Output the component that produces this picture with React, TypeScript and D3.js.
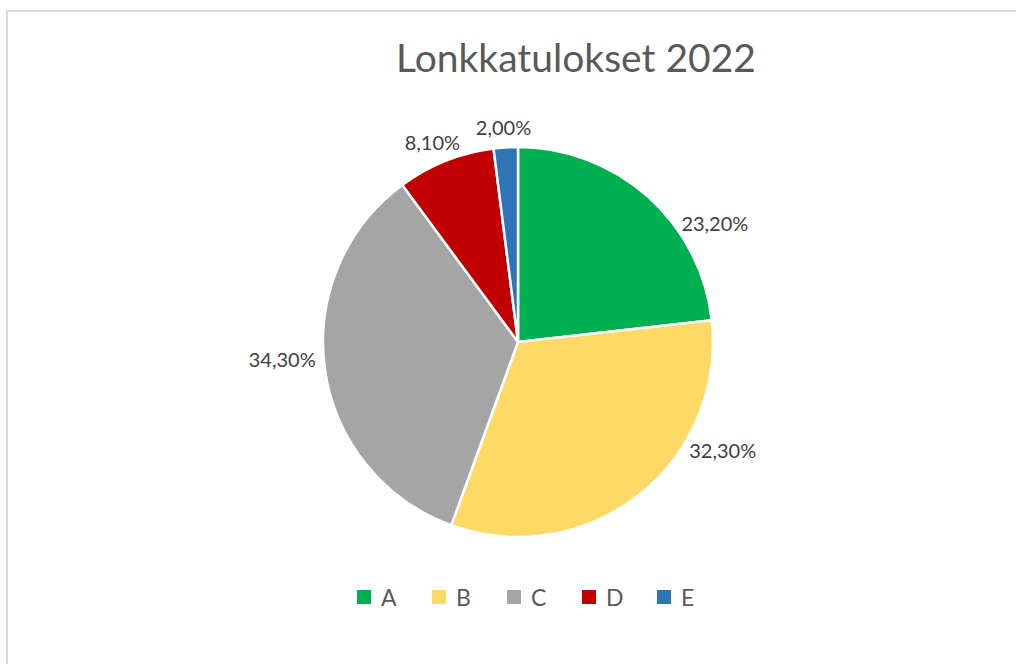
import React, { useRef, useEffect } from 'react';
import * as d3 from 'd3';

const categories = ['A', 'B', 'C', 'D', 'E'];
const values = [23.2, 32.3, 34.3, 8.1, 2.0];
const labels = ['23,20%', '32,30%', '34,30%', '8,10%', '2,00%'];
const colors = ['#00B050', '#FFD966', '#A5A5A5', '#C00000', '#2E75B6'];
const title = 'Lonkkatulokset 2022';

const W = 1016;
const H = 664;

const App = () => {
  const svgRef = useRef<SVGSVGElement>(null);

  useEffect(() => {
    if (!svgRef.current) return;
    const svg = d3.select(svgRef.current);
    svg.selectAll('*').remove();

    const font = 'Lato, Carlito, "Open Sans", sans-serif';

    svg.append('rect').attr('width', W).attr('height', H).attr('fill', '#fff');

    // chart border (box is wider than the window)
    svg.append('rect')
      .attr('x', 7).attr('y', 11)
      .attr('width', 1200).attr('height', 900)
      .attr('fill', 'none')
      .attr('stroke', '#d9d9d9')
      .attr('stroke-width', 2);

    svg.append('text')
      .attr('x', 576).attr('y', 72)
      .attr('text-anchor', 'middle')
      .attr('fill', '#595959')
      .attr('font-family', font)
      .attr('font-size', 39)
      .text(title);

    const cx = 518, cy = 342, radius = 195;
    const g = svg.append('g').attr('transform', `translate(${cx},${cy})`);

    const total = d3.sum(values);
    const data = categories.map((c, i) => ({ name: c, value: values[i], label: labels[i], color: colors[i] }));
    const pie = d3.pie<any>().value(d => d.value).sort(null);
    const arc = d3.arc<any>().innerRadius(0).outerRadius(radius);
    const arcs = pie(data);

    g.selectAll('path')
      .data(arcs)
      .enter()
      .append('path')
      .attr('d', arc)
      .attr('fill', d => d.data.color)
      .attr('stroke', '#fff')
      .attr('stroke-width', 2.5)
      .attr('stroke-linejoin', 'round');

    // outside-end labels, big slices nudged toward the horizontal (best fit)
    arcs.forEach(d => {
      let a = (d.startAngle + d.endAngle) / 2;
      const frac = d.data.value / total;
      if (frac > 0.15) {
        const horiz = a < Math.PI ? Math.PI / 2 : (3 * Math.PI) / 2;
        a += (horiz - a) * 1.3 * frac;
      }
      const s = Math.sin(a), c = Math.cos(a);
      const r = radius + 8;
      const t = g.append('text')
        .attr('fill', '#404040')
        .attr('font-family', font)
        .attr('font-size', 20)
        .attr('dominant-baseline', 'central')
        .attr('text-anchor', 'middle')
        .text(d.data.label);
      const bb = (t.node() as SVGTextElement).getBBox();
      t.attr('x', s * r + s * bb.width / 2).attr('y', -c * r - c * bb.height / 2);
    });

    // legend
    const lx = d3.scalePoint<string>().domain(categories).range([357, 657]);
    const leg = svg.append('g');
    categories.forEach((c, i) => {
      const x = lx(c)!;
      leg.append('rect')
        .attr('x', x).attr('y', 590)
        .attr('width', 14).attr('height', 14)
        .attr('fill', colors[i]);
      leg.append('text')
        .attr('x', x + 24).attr('y', 606)
        .attr('fill', '#595959')
        .attr('font-family', font)
        .attr('font-size', 23)
        .text(c);
    });
  }, []);

  return (
    <svg ref={svgRef} width={W} height={H} style={{ position: 'absolute', left: 0, top: 0 }} />
  );
};

export default App;
